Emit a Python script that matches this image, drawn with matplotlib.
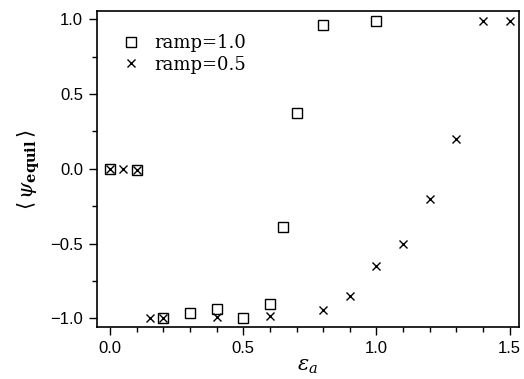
import matplotlib
matplotlib.use("Agg")
import matplotlib.pyplot as plt
from matplotlib.ticker import MultipleLocator

# ramp = 1.0 (squares)
epsSquare = [0.0, 0.1, 0.2, 0.3, 0.4, 0.5, 0.6, 0.65, 0.7, 0.8, 1.0]
psiSquare = [0.0, -0.01, -1.0, -0.965, -0.94, -1.0, -0.905, -0.39, 0.375, 0.96, 0.99]

# ramp = 0.5 (crosses)
epsCross = [0.0, 0.05, 0.1, 0.15, 0.2, 0.4, 0.6, 0.8, 0.9, 1.0, 1.1, 1.2, 1.3, 1.4, 1.5]
psiCross = [0.0, 0.0, -0.01, -1.0, -1.0, -0.99, -0.987, -0.943, -0.853, -0.653, -0.505,
            -0.205, 0.2, 0.985, 0.985]

xTicks = [0.0, 0.5, 1.0, 1.5]
yTicks = [-1.0, -0.5, 0.0, 0.5, 1.0]

plt.rcParams["font.family"] = ["Liberation Sans", "DejaVu Sans"]
plt.rcParams["mathtext.fontset"] = "dejavuserif"

fig = plt.figure(figsize=(5.24, 3.79), dpi=100)
ax = fig.add_axes([0.185, 0.137, 0.805, 0.834])

ax.plot(epsSquare, psiSquare, linestyle="none", marker="s", markersize=7,
        markerfacecolor="none", markeredgecolor="black", markeredgewidth=1.0,
        label="ramp=1.0")
ax.plot(epsCross, psiCross, linestyle="none", marker="x", markersize=6,
        color="black", markeredgewidth=1.0, label="ramp=0.5")

ax.set_xlim(-0.049, 1.534)
ax.set_ylim(-1.058, 1.055)
ax.set_xticks(xTicks)
ax.set_yticks(yTicks)
ax.set_xticklabels([f"{t:.1f}" for t in xTicks])
ax.set_yticklabels([f"{t:.1f}".replace("-", "\u2212") for t in yTicks])
ax.xaxis.set_minor_locator(MultipleLocator(0.1))
ax.yaxis.set_minor_locator(MultipleLocator(0.25))
ax.tick_params(which="major", direction="out", length=6, width=1.0, labelsize=12,
               top=False, right=False, pad=4)
ax.tick_params(which="minor", direction="out", length=3.5, width=1.0,
               top=False, right=False)
for s in ax.spines.values():
    s.set_linewidth(1.2)

ax.set_xlabel(r"$\varepsilon_a$", fontsize=15, labelpad=1)
ax.set_ylabel(r"$\langle\,\psi_{\mathbf{equil}}\,\rangle$", fontsize=15, labelpad=6)

ax.legend(loc="upper left", bbox_to_anchor=(0.054, 0.927), frameon=False,
          prop={"family": "DejaVu Serif", "size": 13},
          handletextpad=0.7, borderaxespad=0.0, labelspacing=0.2, handlelength=1.2,
          borderpad=0.0)

fig.savefig("out.png", dpi=100)
